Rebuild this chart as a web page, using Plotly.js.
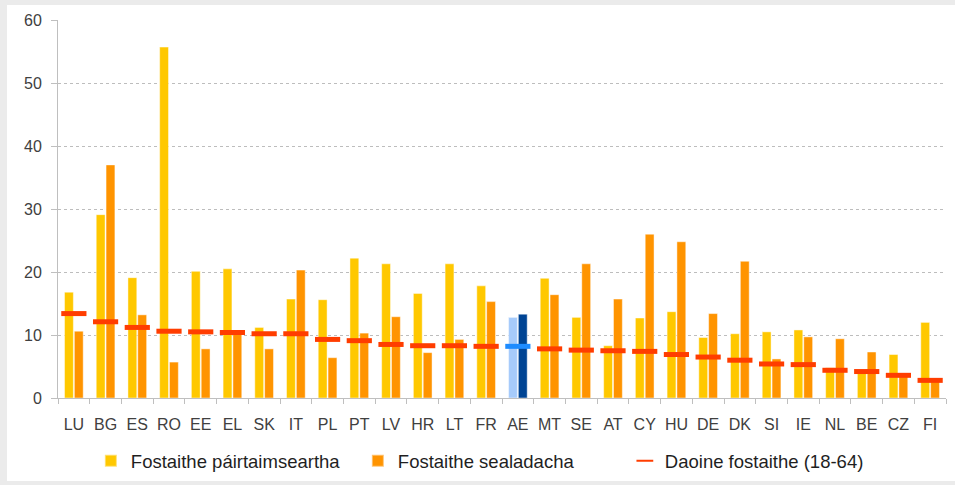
<!DOCTYPE html>
<html>
<head>
<meta charset="utf-8">
<script src="https://cdn.plot.ly/plotly-3.0.1.min.js"></script>
<style>
  html, body { margin: 0; padding: 0; background: #ebebeb; }
  #panel { position: absolute; left: 7px; top: 5px; width: 948px; height: 476px; background: #ffffff; }
  #chart { position: absolute; left: 0; top: 0; width: 955px; height: 485px; }
</style>
</head>
<body>
<div id="panel"></div>
<div id="chart"></div>
<script>
const categories = ['LU','BG','ES','RO','EE','EL','SK','IT','PL','PT','LV','HR','LT','FR','AE','MT','SE','AT','CY','HU','DE','DK','SI','IE','NL','BE','CZ','FI'];
const partTime  = [16.8,29.1,19.1,55.7,20.1,20.5,11.2,15.7,15.6,22.2,21.3,16.6,21.3,17.8,12.8,19.0,12.8,8.3,12.7,13.7,9.6,10.2,10.5,10.8,4.8,4.0,6.9,12.0];
const temporary = [10.6,37.0,13.2,5.7,7.8,10.7,7.8,20.3,6.4,10.3,12.9,7.2,9.3,15.3,13.3,16.4,21.3,15.7,26.0,24.8,13.4,21.7,6.2,9.7,9.4,7.3,3.5,2.6];
const employed  = [13.4,12.1,11.2,10.6,10.5,10.4,10.2,10.2,9.3,9.1,8.5,8.3,8.3,8.2,8.2,7.8,7.6,7.5,7.4,6.9,6.5,6.0,5.4,5.3,4.4,4.2,3.6,2.8];
const seriesNames = ['Fostaithe páirtaimseartha','Fostaithe sealadacha','Daoine fostaithe (18-64)'];
const highlight = 'AE';

const YELLOW = '#ffc800', ORANGE = '#ff9400', RED = '#ff3d00';
const LBLUE = '#a6cbfb', DBLUE = '#004494', MBLUE = '#1e8cff';

const colA = categories.map(c => c === highlight ? LBLUE : YELLOW);
const colB = categories.map(c => c === highlight ? DBLUE : ORANGE);
const colL = categories.map(c => c === highlight ? MBLUE : RED);

const traces = [
  { type: 'bar', name: seriesNames[0], x: categories, y: partTime,
    marker: { color: colA, line: { color: 'rgba(255,255,255,0.45)', width: 1 } } },
  { type: 'bar', name: seriesNames[1], x: categories, y: temporary,
    marker: { color: colB, line: { color: 'rgba(255,255,255,0.45)', width: 1 } } },
  { type: 'scatter', mode: 'markers', name: seriesNames[2], x: categories, y: employed,
    marker: { symbol: 'line-ew', size: 18, color: colL, line: { color: colL, width: 5 } } }
];

const layout = {
  width: 955, height: 485,
  margin: { l: 58, r: 9, t: 20, b: 87, autoexpand: false },
  paper_bgcolor: 'rgba(0,0,0,0)',
  plot_bgcolor: '#ffffff',
  barmode: 'group',
  bargap: 0.38,
  bargroupgap: 0.1,
  font: { family: 'Liberation Sans, Arial, sans-serif', size: 16, color: '#404040' },
  xaxis: {
    type: 'category',
    automargin: false,
    range: [-0.5, categories.length - 0.5],
    autorange: false,
    tickangle: 0,
    tickson: 'boundaries',
    ticks: 'outside', ticklen: 5, tickcolor: '#bfbfbf', tickwidth: 1,
    ticklabelstandoff: 12,
    showline: true, linecolor: '#bfbfbf', linewidth: 1,
    showgrid: false,
    tickfont: { size: 16, color: '#404040' }
  },
  yaxis: {
    automargin: false,
    range: [0, 60],
    autorange: false,
    dtick: 10,
    ticks: 'outside', ticklen: 6, tickcolor: '#bfbfbf',
    ticklabelstandoff: 6,
    showline: true, linecolor: '#bfbfbf', linewidth: 1,
    showgrid: true, gridcolor: '#bdbdbd', griddash: 'dot', gridwidth: 1,
    zeroline: false,
    tickfont: { size: 16, color: '#404040' }
  },
  showlegend: true,
  legend: {
    orientation: 'h',
    x: 0.037, xanchor: 'left',
    y: -0.167, yanchor: 'middle',
    font: { family: 'Liberation Sans, Arial, sans-serif', size: 18.5, color: '#1f1f1f' },
    itemwidth: 30,
    entrywidth: 222,
    itemsizing: 'constant',
    bgcolor: 'rgba(0,0,0,0)'
  }
};

Plotly.newPlot('chart', traces, layout, { displayModeBar: false, staticPlot: true });
</script>
</body>
</html>
